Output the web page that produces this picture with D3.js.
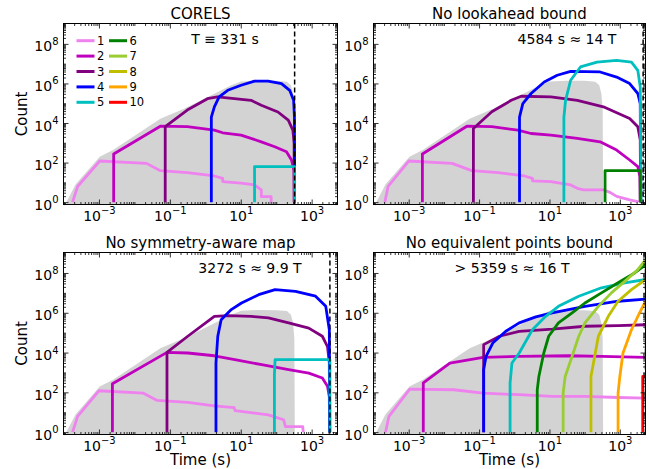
<!DOCTYPE html>
<html><head><meta charset="utf-8">
<script src="https://cdn.jsdelivr.net/npm/d3@7"></script>
<style>
body{margin:0;background:#fff}
svg{display:block}
text{font-family:"DejaVu Sans",sans-serif;fill:#000}
</style>
</head><body>
<svg id="c" width="650" height="469"></svg>
<script>
// ---------------- data ----------------
const seriesLabels = ["1","2","3","4","5","6","7","8","9","10"];
const seriesColors = ["#ee82ee","#bf00bf","#800080","#0000ff","#00bfbf","#008000","#9acd32","#bfbf00","#ffa500","#ff0000"];
const panelTitles = ["CORELS","No lookahead bound","No symmetry-aware map","No equivalent points bound"];
const panelNotes = ["T \u2261 331 s","4584 s \u2248 14 T","3272 s \u2248 9.9 T","> 5359 s \u2248 16 T"];
const panelEndTimes = [331, 4584, 3272, 5359];
const xTickExps = [-3,-1,1,3];
const yTickExps = [0,2,4,6,8];
const xLimits = [1e-4, 5359];
const yLimits = [0.76, 1.07e9];

// grey area: total queue size of CORELS (time s, count)
const grayTotal = [[1.2e-4,1],[2.2e-4,8],[1.05e-3,195],[2.5e-3,430],[0.054,1.66e4],[0.25,5.2e4],[1.8,3.0e5],[5.2,7.8e5],[10.2,1.26e6],[30,1.38e6],[100,1.35e6],[200,1.22e6],[260,8e5],[300,3e5],[325,5e4],[335,1]];

const corelsSeries = [
  [[1.8e-4,1],[2.5e-4,6.2],[1.05e-3,120],[0.022,91],[0.054,39],[0.31,31],[1.8,21],[3.1,16],[3.1,11],[10.2,9.1],[24.5,7.4],[38,4.2],[38,1.9],[72,1.9],[72,1]],
  [[2.6e-3,1],[2.6e-3,270],[0.054,6900],[0.31,6500],[1.8,4400],[3.1,3200],[10.2,2450],[38,1120],[91,630],[195,355],[270,135],[318,40],[322,1]],
  [[0.074,1],[0.074,6500],[0.31,4.5e4],[1.15,1.7e5],[2.2,2.1e5],[6.6,1.7e5],[19.5,1.4e5],[38,7.9e4],[112,3.6e4],[219,1.4e4],[295,4400],[320,930],[323,1]],
  [[1.48,1],[1.48,2e4],[1.8,6.6e4],[2.45,2.1e5],[4.3,4.5e5],[10.2,8.1e5],[24.5,1.3e6],[59,1.3e6],[141,9.8e5],[240,4.5e5],[310,1.4e5],[327,2e4],[329,1]],
  [[24.5,1],[24.5,63],[331,63],[331,1]],
  null,null,null,null,null
];

const noLookaheadSeries = [
  [[2.1e-4,1],[2.6e-4,6.2],[1e-3,120],[0.017,91],[0.062,39],[0.35,31],[1.95,21],[3.3,16],[3.3,12],[11,11],[40,7.4],[62,5],[93,4.2],[340,4.2],[525,3.1],[810,1.95],[1900,1.3],[3240,1.07],[3300,1]],
  [[2.45e-3,1],[2.45e-3,270],[0.045,6900],[0.23,6500],[1.26,4400],[3,2950],[11,2450],[62,1660],[275,1120],[810,430],[1900,135],[3240,63],[3700,20],[3800,1]],
  [[0.069,1],[0.069,5300],[0.23,3.7e4],[0.82,1.4e5],[1.57,2.25e5],[11,2.1e5],[62,1.4e5],[340,6.6e4],[1900,1.7e4],[3240,6500],[3800,1400],[3900,1]],
  [[1.41,1],[1.41,2e4],[1.75,9.6e4],[3,3.1e5],[7.1,1.18e6],[16.6,2.6e6],[40,4.1e6],[275,3.8e6],[810,2.1e6],[1900,9.8e5],[3240,3.1e5],[3800,9.6e4],[3950,1]],
  [[25.7,1],[25.7,2e4],[28.7,1.4e5],[40,1.45e6],[76,6.8e6],[224,1.2e7],[810,1.45e7],[2140,1.2e7],[3240,4.6e6],[3800,6.6e5],[4000,1]],
  [[380,1],[380,39],[3800,39],[3800,1]],
  null,null,null,null
];

const noSymmetrySeries = [
  [[1.8e-4,1],[2.5e-4,6.2],[1e-3,120],[0.018,91],[0.044,39],[0.32,31],[1.8,21],[6.5,17],[6.9,12],[25,9.1],[60,7.4],[162,4.2],[182,1.9],[560,1.9],[580,1]],
  [[2.4e-3,1],[2.4e-3,270],[0.083,1.02e4],[0.32,9500],[1.8,6900],[6.8,4400],[39,2450],[224,1380],[830,930],[2000,525],[2800,200],[3150,60],[3200,1]],
  [[0.083,1],[0.083,1.02e4],[0.32,6.6e4],[1.8,6.6e5],[4.4,7.2e5],[20,6.6e5],[60,5.5e5],[224,3.1e5],[830,1.7e5],[2000,6.6e4],[2800,2e4],[3150,3000],[3200,1]],
  [[2,1],[2,3000],[2.25,6.6e4],[2.8,4.5e5],[5.4,1.45e6],[10.5,3.1e6],[32,8.1e6],[93,1.45e7],[350,1.2e7],[1290,6.8e6],[2500,2.1e6],[3150,1.4e5],[3250,1]],
  [[89,1],[89,770],[93,4400],[3272,4400],[3272,1]],
  null,null,null,null,null
];

const noEquivalentSeries = [
  [[2.2e-4,1],[2.75e-4,6.2],[1.07e-3,145],[0.019,135],[0.13,91],[1.38,76],[12,63],[102,63],[890,55],[5400,51]],
  [[2.6e-3,1],[2.6e-3,295],[0.0148,2950],[0.13,5750],[1.38,6500],[35.5,6900],[300,6500],[5400,5750]],
  [[0.135,1],[0.135,2.5e4],[0.38,6.6e4],[1.38,1.17e5],[12,1.5e5],[102,2.1e5],[890,2.25e5],[5400,2.5e5]],
  [[0.135,1],[0.135,1400],[0.158,6500],[0.245,3e4],[0.575,1.17e5],[1.38,3.1e5],[4.1,6.2e5],[12,9.8e5],[102,2.1e6],[890,3.8e6],[5400,4.9e6]],
  [[0.76,1],[0.76,300],[0.86,3000],[1.38,9500],[3.27,1.4e5],[7.8,6.6e5],[18,2.1e6],[68,6.8e6],[300,1.8e7],[1380,3.2e7],[5400,4.7e7]],
  [[4.5,1],[4.5,135],[5,630],[6.9,9500],[9.5,6.6e4],[18,3.1e5],[44,9.8e5],[102,3.1e6],[300,1e7],[890,3.2e7],[2630,1e8],[5400,2.6e8]],
  [[24.5,1],[24.5,91],[28,630],[44,6500],[68,6.6e4],[102,3.1e5],[245,2.1e6],[575,1e7],[1380,3.8e7],[3240,1.48e8],[5400,4.7e8]],
  [[151,1],[151,630],[178,2950],[245,6.6e4],[470,6.6e5],[890,3.8e6],[2140,1.45e7],[5400,4.7e7]],
  [[890,1],[890,91],[1000,630],[1230,9500],[2140,1.4e5],[3630,9.8e5],[5400,3.8e6]],
  [[4470,1],[4470,630],[5400,630]]
];

const panelSeries = [corelsSeries, noLookaheadSeries, noSymmetrySeries, noEquivalentSeries];

// ---------------- layout ----------------
const boxes = [
  {l:63.5, r:337.5, t:23.5, b:204.5},
  {l:373.5, r:645.5, t:23.5, b:204.5},
  {l:63.5, r:337.5, t:252.5, b:434.5},
  {l:373.5, r:645.5, t:252.5, b:434.5}
];
const notePos = [[225,44],[567,44],[250,273],[512,273]];

const svg = d3.select("#c");
const minus = s => String(s).replace("-", "\u2212");

function minorValues(lo, hi, majors){
  const out=[];
  for(let k=Math.floor(Math.log10(lo))-1;k<=Math.ceil(Math.log10(hi));k++){
    for(let m=1;m<=9;m++){
      const v=m*Math.pow(10,k);
      if(v>=lo && v<=hi && !(m===1 && majors.includes(k))) out.push(v);
    }
  }
  return out;
}

function supLabels(sel){
  sel.selectAll(".tick text").each(function(d){
    const t=d3.select(this);
    const e=Math.round(Math.log10(d));
    t.text(null);
    t.append("tspan").text("10");
    t.append("tspan").attr("font-size","10px").attr("dy","-0.65em").text(minus(e));
  });
}

panelSeries.forEach((series, i) => {
  const bx = boxes[i];
  const x = d3.scaleLog().domain(xLimits).range([bx.l, bx.r]);
  const y = d3.scaleLog().domain(yLimits).range([bx.b, bx.t]);
  const g = svg.append("g");
  const cid = "clip"+i;
  svg.append("clipPath").attr("id",cid).append("rect")
    .attr("x",bx.l).attr("y",bx.t).attr("width",bx.r-bx.l).attr("height",bx.b-bx.t);
  const plot = g.append("g").attr("clip-path","url(#"+cid+")");

  plot.append("path").datum(grayTotal)
    .attr("fill","#d3d3d3")
    .attr("d", d3.area().x(d=>x(d[0])).y0(bx.b+5).y1(d=>y(d[1])));

  const line = d3.line().x(d=>x(d[0])).y(d=>y(d[1]));
  series.forEach((s,j)=>{
    if(!s) return;
    plot.append("path").datum(s)
      .attr("fill","none").attr("stroke",seriesColors[j]).attr("stroke-width",2.8)
      .attr("stroke-linejoin","round")
      .attr("d", line);
  });

  plot.append("line")
    .attr("x1",x(panelEndTimes[i])).attr("x2",x(panelEndTimes[i]))
    .attr("y1",bx.t).attr("y2",bx.b)
    .attr("stroke","#000").attr("stroke-width",1.5).attr("stroke-dasharray","5,3");

  // axes
  const xMaj = xTickExps.map(e=>Math.pow(10,e));
  const yMaj = yTickExps.map(e=>Math.pow(10,e));
  const xMin = minorValues(xLimits[0], xLimits[1], xTickExps);
  const yMin = minorValues(yLimits[0], yLimits[1], yTickExps);

  const ax = [];
  ax.push(g.append("g").attr("transform",`translate(0,${bx.b})`)
    .call(d3.axisBottom(x).tickValues(xMaj).tickSizeInner(-5).tickSizeOuter(0).tickPadding(6.5)));
  supLabels(ax[0]);
  ax[0].selectAll(".tick text").attr("font-size","14px");
  ax.push(g.append("g").attr("transform",`translate(0,${bx.b})`)
    .call(d3.axisBottom(x).tickValues(xMin).tickSizeInner(-2.5).tickSizeOuter(0).tickFormat("")));
  ax.push(g.append("g").attr("transform",`translate(0,${bx.t})`)
    .call(d3.axisTop(x).tickValues(xMaj).tickSizeInner(-5).tickSizeOuter(0).tickFormat("")));
  ax.push(g.append("g").attr("transform",`translate(0,${bx.t})`)
    .call(d3.axisTop(x).tickValues(xMin).tickSizeInner(-2.5).tickSizeOuter(0).tickFormat("")));
  const yl = g.append("g").attr("transform",`translate(${bx.l},0)`)
    .call(d3.axisLeft(y).tickValues(yMaj).tickSizeInner(-5).tickSizeOuter(0).tickPadding(5));
  supLabels(yl);
  yl.selectAll(".tick text").attr("font-size","14px").attr("dy","0.5em");
  ax.push(yl);
  ax.push(g.append("g").attr("transform",`translate(${bx.l},0)`)
    .call(d3.axisLeft(y).tickValues(yMin).tickSizeInner(-2.5).tickSizeOuter(0).tickFormat("")));
  ax.push(g.append("g").attr("transform",`translate(${bx.r},0)`)
    .call(d3.axisRight(y).tickValues(yMaj).tickSizeInner(-5).tickSizeOuter(0).tickFormat("")));
  ax.push(g.append("g").attr("transform",`translate(${bx.r},0)`)
    .call(d3.axisRight(y).tickValues(yMin).tickSizeInner(-2.5).tickSizeOuter(0).tickFormat("")));
  ax.forEach(a=>{ a.select(".domain").remove(); a.attr("font-family",null).attr("font-size",null);
    a.selectAll(".tick line").attr("stroke","#000").attr("stroke-width",0.8); });

  g.append("rect").attr("x",bx.l).attr("y",bx.t).attr("width",bx.r-bx.l).attr("height",bx.b-bx.t)
    .attr("fill","none").attr("stroke","#000").attr("stroke-width",1);

  // title
  g.append("text").attr("x",(bx.l+bx.r)/2).attr("y",bx.t-4.5)
    .attr("text-anchor","middle").attr("font-size","15px").text(panelTitles[i]);
  // note
  g.append("text").attr("x",notePos[i][0]).attr("y",notePos[i][1])
    .attr("text-anchor","middle").attr("font-size","14px").text(panelNotes[i]);

  if(i%2===0){
    g.append("text").attr("transform",`translate(27,${(bx.t+bx.b)/2}) rotate(-90)`)
      .attr("text-anchor","middle").attr("font-size","15px").text("Count");
  }
  if(i>=2){
    g.append("text").attr("x",(bx.l+bx.r)/2).attr("y",465)
      .attr("text-anchor","middle").attr("font-size","15px").text("Time (s)");
  }

  if(i===0){
    const lg = g.append("g");
    seriesLabels.forEach((lab,j)=>{
      const col = Math.floor(j/5), row = j%5;
      const lx = 76.5 + col*32.5, ly = 40.7 + row*15.4;
      lg.append("line").attr("x1",lx).attr("x2",lx+18).attr("y1",ly).attr("y2",ly)
        .attr("stroke",seriesColors[j]).attr("stroke-width",3);
      lg.append("text").attr("x",lx+20.5).attr("y",ly+4).attr("font-size","11.5px").text(lab);
    });
  }
});
</script>
</body></html>
